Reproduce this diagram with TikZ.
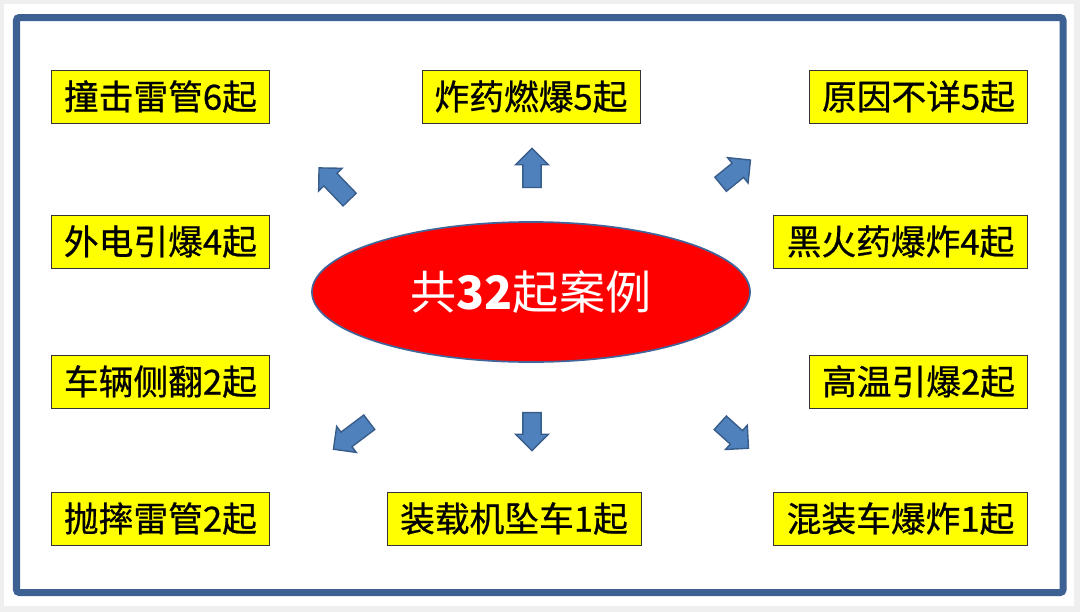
\documentclass[tikz,border=0pt]{standalone}
\usepackage{fontspec}
\newfontfamily\cjk{Noto Sans CJK SC}
\newfontfamily\cjkm[FakeBold=0.7]{Noto Sans CJK SC}
\usetikzlibrary{shapes.geometric, shapes.arrows}
\definecolor{pagegray}{HTML}{EFEFEF}
\definecolor{frameblue}{HTML}{3E6193}
\definecolor{caseyel}{HTML}{FFFF00}
\definecolor{blkfill}{HTML}{4F81BD}
\definecolor{blkedge}{HTML}{385D8A}
\definecolor{ovaledge}{HTML}{41649A}

\begin{document}
\begin{tikzpicture}[x=0.025cm, y=-0.025cm,
  case/.style={draw=black!80, fill=caseyel, line width=0.6pt, minimum width=5.45cm,
               minimum height=1.325cm, inner sep=0pt,
               font=\cjkm\fontsize{24.7}{28}\selectfont},
  wide/.style={case, minimum width=6.35cm},
  blk/.style={single arrow, fill=blkfill, draw=blkedge, line width=1pt,
              inner sep=0.21cm, outer sep=0pt, minimum width=0.78cm,
              single arrow head extend=0.18cm}]
  \useasboundingbox (0,0) rectangle (1080,612);
  % page and frame
  \fill[pagegray] (0,0) rectangle (1080,612);
  \fill[white] (4,4) rectangle (1074,606);
  \draw[frameblue, line width=0.175cm, rounded corners=2pt] (16.5,17.5) rectangle (1063,592.5);
  % centre
  \node[ellipse, fill=red, draw=ovaledge, line width=1.2pt, minimum width=10.95cm,
        minimum height=3.5cm, text=white, font=\cjk\fontsize{32.8}{36}\selectfont]
        (E) at (531,292) {共{\bfseries 32}起案例};
  % cases
  \node[case, anchor=west] (c1)  at (51,96.5)    {撞击雷管6起};
  \node[case]              (c2)  at (531,96.5)   {炸药燃爆5起};
  \node[case, anchor=east] (c3)  at (1028,96.5)  {原因不详5起};
  \node[case, anchor=west] (c4)  at (51,241.5)   {外电引爆4起};
  \node[wide, anchor=east] (c5)  at (1028,241.5) {黑火药爆炸4起};
  \node[case, anchor=west] (c6)  at (51,381.5)   {车辆侧翻2起};
  \node[case, anchor=east] (c7)  at (1028,381.5) {高温引爆2起};
  \node[case, anchor=west] (c8)  at (51,518.5)   {抛摔雷管2起};
  \node[wide]              (c9)  at (514,518.5)  {装载机坠车1起};
  \node[wide, anchor=east] (c10) at (1028,518.5) {混装车爆炸1起};
  % block arrows
  \node[blk, rotate=134, minimum height=1.1cm]   (aNW) at (337.5,187) {};
  \node[blk, rotate=90,  minimum height=0.975cm] (aN)  at (532,172.5) {};
  \node[blk, rotate=39,  minimum height=0.96cm]  (aNE) at (732,175)   {};
  \node[blk, rotate=217, minimum height=1.12cm]  (aSW) at (355,433)   {};
  \node[blk, rotate=270, minimum height=0.95cm]  (aS)  at (532,427)   {};
  \node[blk, rotate=-42, minimum height=0.95cm]  (aSE) at (731,432.5) {};
\end{tikzpicture}
\end{document}
